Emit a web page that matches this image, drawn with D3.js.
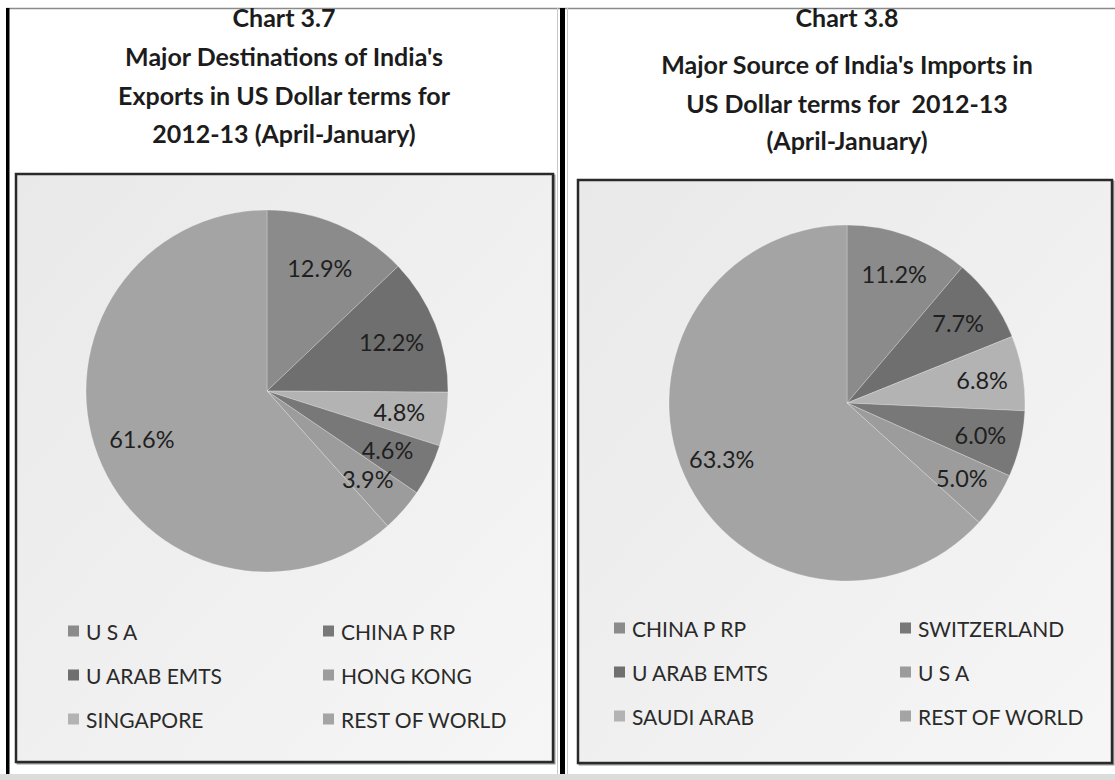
<!DOCTYPE html>
<html>
<head>
<meta charset="utf-8">
<script src="https://cdn.jsdelivr.net/npm/d3@7"></script>
<style>
  body { margin: 0; background: #fff; }
  svg { display: block; }
  text { font-family: Lato, "Open Sans", "DejaVu Sans", sans-serif; }
</style>
</head>
<body>
<svg id="chart" width="1115" height="780"></svg>
<script>
// Exports by destination, 2012-13 (April-January), share in %
const exportCountries = ["U S A", "U ARAB EMTS", "SINGAPORE", "CHINA P RP", "HONG KONG", "REST OF WORLD"];
const exportShares = [12.9, 12.2, 4.8, 4.6, 3.9, 61.6];
const exportTitle = ["Chart 3.7", "Major Destinations of India's", "Exports in US Dollar terms for", "2012-13 (April-January)"];

// Imports by source, 2012-13 (April-January), share in %
const importCountries = ["CHINA P RP", "U ARAB EMTS", "SAUDI ARAB", "SWITZERLAND", "U S A", "REST OF WORLD"];
const importShares = [11.2, 7.7, 6.8, 6.0, 5.0, 63.3];
const importTitle = ["Chart 3.8", "Major Source of India's Imports in", "US Dollar terms for  2012-13", "(April-January)"];

// Grey series palette, in series order
const sliceGrays = ["#8b8b8b", "#6f6f6f", "#b3b3b3", "#787878", "#9c9c9c", "#a4a4a4"];

const svg = d3.select("#chart");

// gradient fill for the plot boxes
const defs = svg.append("defs");
const grad = defs.append("linearGradient").attr("id", "boxFill")
  .attr("x1", "0").attr("y1", "0").attr("x2", "1").attr("y2", "1");
grad.append("stop").attr("offset", "0%").attr("stop-color", "#e9e9e9");
grad.append("stop").attr("offset", "100%").attr("stop-color", "#f6f6f6");

// outer page frame
svg.append("rect").attr("x", 0).attr("y", 0).attr("width", 1115).attr("height", 780).attr("fill", "#fff");
svg.append("line").attr("x1", 6).attr("x2", 1115).attr("y1", 8.5).attr("y2", 8.5).attr("stroke", "#8a8a8a").attr("stroke-width", 1.5);
svg.append("rect").attr("x", 6).attr("y", 8).attr("width", 3.5).attr("height", 766).attr("fill", "#000");
svg.append("rect").attr("x", 560).attr("y", 8).attr("width", 5).attr("height", 766).attr("fill", "#000");
svg.append("line").attr("x1", 557.5).attr("x2", 557.5).attr("y1", 8).attr("y2", 774).attr("stroke", "#c8c8c8");
svg.append("line").attr("x1", 567.5).attr("x2", 567.5).attr("y1", 8).attr("y2", 774).attr("stroke", "#c8c8c8");
svg.append("rect").attr("x", 0).attr("y", 774).attr("width", 1115).attr("height", 6).attr("fill", "#dcdcdc");

function drawPanel(opt) {
  const g = svg.append("g");

  // title lines
  opt.title.forEach((line, i) => {
    g.append("text")
      .attr("x", opt.titleX).attr("y", opt.titleY[i])
      .attr("text-anchor", "middle").attr("dominant-baseline", "central")
      .attr("font-size", 25).attr("font-weight", 700).attr("fill", "#1c1c1c")
      .style("white-space", "pre")
      .text(line);
  });

  // chart box with a soft shadow edge
  const [x0, y0, x1, y1] = opt.box;
  g.append("rect").attr("x", x0 + 1.5).attr("y", y0 + 1.5).attr("width", x1 - x0).attr("height", y1 - y0)
    .attr("fill", "none").attr("stroke", "#9a9a9a").attr("stroke-width", 2);
  g.append("rect").attr("x", x0).attr("y", y0).attr("width", x1 - x0).attr("height", y1 - y0)
    .attr("fill", "url(#boxFill)").attr("stroke", "#2a2a2a").attr("stroke-width", 2.5);

  // pie
  const pie = d3.pie().sort(null).value(d => d).startAngle(0).endAngle(2 * Math.PI);
  const arcs = pie(opt.values);
  const arc = d3.arc().innerRadius(0).outerRadius(opt.r);
  const labelR = opt.r * opt.labelFrac;
  const labelArc = d3.arc().innerRadius(labelR).outerRadius(labelR);

  const pg = g.append("g").attr("transform", `translate(${opt.cx},${opt.cy})`);
  pg.selectAll("path.slice").data(arcs).join("path")
    .attr("class", "slice")
    .attr("d", arc)
    .attr("fill", (d, i) => sliceGrays[i])
    .attr("stroke", "rgba(255,255,255,0.3)")
    .attr("stroke-width", 0.8);

  pg.selectAll("text.val").data(arcs).join("text")
    .attr("class", "val")
    .attr("transform", d => `translate(${labelArc.centroid(d)})`)
    .attr("text-anchor", "middle").attr("dominant-baseline", "central")
    .attr("font-size", 23.5).attr("fill", "#1f1f1f")
    .text(d => d.data.toFixed(1) + "%");

  // legend, filled column by column
  const lg = g.append("g");
  opt.names.forEach((name, i) => {
    const col = Math.floor(i / 3), row = i % 3;
    const sx = opt.legendX[col], sy = opt.legendY + row * opt.legendDy;
    lg.append("rect").attr("x", sx).attr("y", sy - 5.5).attr("width", 11).attr("height", 11)
      .attr("fill", sliceGrays[i]);
    lg.append("text").attr("x", sx + 18).attr("y", sy)
      .attr("dominant-baseline", "central")
      .attr("font-size", 21).attr("fill", "#2a2a2a")
      .text(name);
  });
}

drawPanel({
  title: exportTitle, names: exportCountries, values: exportShares,
  titleX: 284, titleY: [17, 56, 95, 133],
  box: [16, 174, 553, 762],
  cx: 267, cy: 391, r: 181, labelFrac: 0.74,
  legendX: [68, 323], legendY: 631, legendDy: 44
});

drawPanel({
  title: importTitle, names: importCountries, values: importShares,
  titleX: 847, titleY: [17, 64, 103, 140],
  box: [578, 180, 1112, 763],
  cx: 847, cy: 403, r: 178, labelFrac: 0.77,
  legendX: [614, 900], legendY: 628, legendDy: 44
});
</script>
</body>
</html>
